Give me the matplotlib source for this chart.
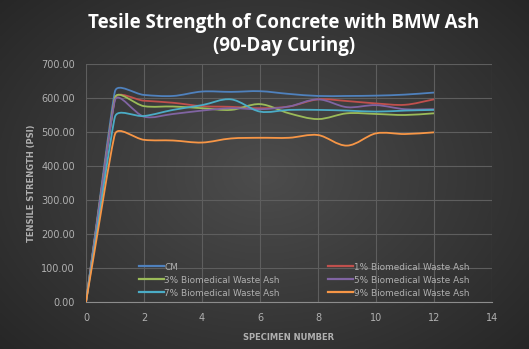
import matplotlib.pyplot as plt
import numpy as np
from matplotlib.path import Path
from matplotlib.patches import PathPatch

# Dados (resistência à tração, psi)
especimes = [0, 1, 2, 3, 4, 5, 6, 7, 8, 9, 10, 11, 12]
nomes = ["CM", "1% Biomedical Waste Ash", "3% Biomedical Waste Ash",
         "5% Biomedical Waste Ash", "7% Biomedical Waste Ash", "9% Biomedical Waste Ash"]
cm = [0, 620, 609, 606, 619, 618, 620, 612, 606, 606, 607, 610, 616]
bmw1 = [0, 599, 592, 586, 576, 574, 570, 575, 596, 591, 584, 580, 596]
bmw3 = [0, 601, 576, 575, 570, 565, 582, 555, 538, 555, 553, 550, 555]
bmw5 = [0, 594, 545, 553, 563, 570, 567, 575, 596, 573, 579, 567, 567]
bmw7 = [0, 545, 547, 565, 579, 596, 560, 565, 565, 563, 560, 563, 565]
bmw9 = [0, 494, 477, 475, 469, 481, 483, 483, 491, 460, 496, 494, 499]
series = [cm, bmw1, bmw3, bmw5, bmw7, bmw9]
cores = ["#4F81BD", "#C0504D", "#9BBB59", "#8064A2", "#4BACC6", "#F79646"]

# escala aproximada em pixels por unidade (para suavizar no espaço da tela)
SX, SY = 29.0, 0.34


def caminho_suave(x, y):
    # curva de Bezier parecida com a "linha suavizada" do Excel
    pts = np.column_stack([np.array(x) * SX, np.array(y) * SY]).astype(float)
    n = len(pts)
    seg = [np.linalg.norm(pts[i + 1] - pts[i]) for i in range(n - 1)]
    tang = []
    for i in range(n):
        a = pts[max(i - 1, 0)]
        b = pts[min(i + 1, n - 1)]
        d = b - a
        viz = [seg[j] for j in (i - 1, i) if 0 <= j < n - 1]
        tang.append(d / (np.linalg.norm(d) + 1e-9) * min(viz) * 0.33)
    verts = [pts[0]]
    codes = [Path.MOVETO]
    for i in range(n - 1):
        p1, p2 = pts[i], pts[i + 1]
        verts += [p1 + tang[i], p2 - tang[i + 1], p2]
        codes += [Path.CURVE4] * 3
    verts = np.array(verts) / [SX, SY]
    return Path(verts, codes)


fig = plt.figure(figsize=(5.29, 3.49), dpi=100)
fig.patch.set_facecolor("#2b2b2b")

# fundo com gradiente radial
bg = fig.add_axes([0, 0, 1, 1])
yy, xx = np.mgrid[-1:1:200j, -1:1:300j]
r = np.sqrt(xx ** 2 + (yy * 0.9) ** 2)
g = np.clip(0.30 - 0.11 * r, 0.14, 1)
bg.imshow(np.dstack([g, g, g]), aspect="auto", extent=[0, 1, 0, 1])
bg.axis("off")

ax = fig.add_axes([86 / 529, 47 / 349, 406 / 529, 238 / 349])
ax.set_facecolor("none")

linhas = []
for dados, cor, nome in zip(series, cores, nomes):
    ax.add_patch(PathPatch(caminho_suave(especimes, dados), facecolor="none",
                           edgecolor=cor, lw=1.3))
    linhas.append(ax.plot([], [], color=cor, lw=1.6, label=nome)[0])

ax.set_xlim(0, 14)
ax.set_ylim(0, 700)
ax.set_xticks(range(0, 15, 2))
ax.set_yticks(range(0, 701, 100))
ax.set_yticklabels([f"{v:.2f}" for v in range(0, 701, 100)])
ax.grid(True, color="#5e5e5e", lw=0.8)
ax.set_axisbelow(True)
for lado in ["top", "right", "left"]:
    ax.spines[lado].set_visible(False)
ax.spines["bottom"].set_color("#8c8c8c")
ax.tick_params(colors="#b0b0b0", labelsize=7, length=0, pad=8)

ax.set_xlabel("SPECIMEN NUMBER", color="#b0b0b0", fontsize=6, fontweight="bold", labelpad=7)
ax.set_ylabel("TENSILE STRENGTH (PSI)", color="#b0b0b0", fontsize=6, fontweight="bold", labelpad=4)

fig.text(0.537, 0.963, "Tesile Strength of Concrete with BMW Ash\n(90-Day Curing)",
         ha="center", va="top", color="white", fontsize=13.5, fontweight="bold",
         family="Open Sans", linespacing=1.2)

ordem = [0, 2, 4, 1, 3, 5]
leg = ax.legend([linhas[i] for i in ordem], [nomes[i] for i in ordem],
                loc="lower left", bbox_to_anchor=(0.11, -0.015), ncol=2, frameon=False,
                fontsize=6.4, labelcolor="#b0b0b0", handlelength=2.8, handletextpad=0.1,
                columnspacing=5.4, labelspacing=0.45)

fig.savefig("out.png", dpi=100, facecolor=fig.get_facecolor())
